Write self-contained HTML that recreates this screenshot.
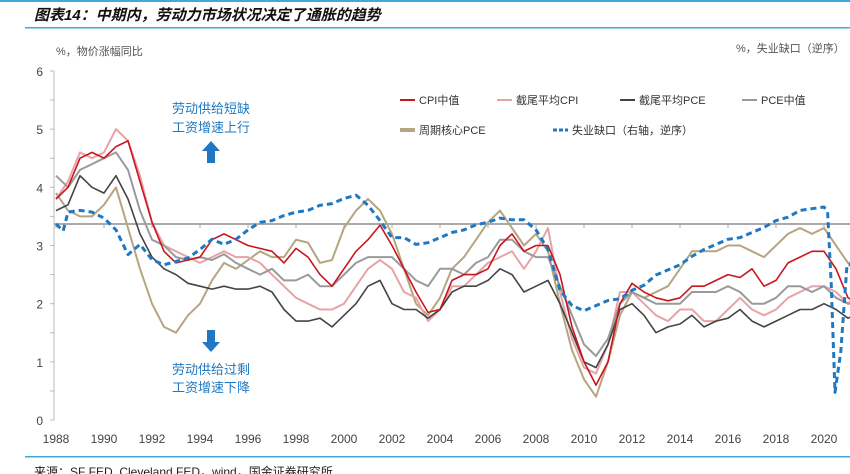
<!DOCTYPE html>
<html><head><meta charset="utf-8">
<style>
html,body{margin:0;padding:0;background:#fff;}
body{width:850px;height:474px;overflow:hidden;position:relative;font-family:"Liberation Sans","Noto Sans CJK SC",sans-serif;}
svg{position:absolute;left:0;top:0;}
</style></head><body>
<svg id="chart" width="850" height="474">
  <rect x="0" y="0" width="850" height="2" fill="#3fa9de"/>
  <text x="34" y="20" font-size="15" font-weight="bold" font-style="italic" fill="#111" font-family="'Liberation Sans','Noto Sans CJK SC',sans-serif">图表14：中期内，劳动力市场状况决定了通胀的趋势</text>
  <rect x="25" y="27" width="825" height="1.5" fill="#3fa9de"/>
  <text x="56" y="55" font-size="11" fill="#555">%，物价涨幅同比</text>
  <text x="736" y="52" font-size="11" fill="#555">%，失业缺口（逆序）</text>
  <g id="axes"></g>
  <g id="series"></g>
  <g id="legend"></g>
  <g fill="#1f78c1" font-size="13" text-anchor="middle">
    <text x="211" y="113">劳动供给短缺</text>
    <text x="211" y="132">工资增速上行</text>
    <polygon points="211,141 220,151 215,151 215,163 207,163 207,151 202,151"/>
  </g>
  <g fill="#1f78c1" font-size="13" text-anchor="middle">
    <polygon points="211,352 220,342 215,342 215,330 207,330 207,342 202,342"/>
    <text x="211" y="374">劳动供给过剩</text>
    <text x="211" y="392">工资增速下降</text>
  </g>
  <rect x="25" y="456" width="825" height="1.5" fill="#3fa9de"/>
  <text x="34" y="476" font-size="12" fill="#222">来源：SF FED, Cleveland FED，wind，国金证券研究所</text>
</svg>
<script>
const times = [1988,1988.5,1989,1989.5,1990,1990.5,1991,1991.5,1992,1992.5,1993,1993.5,1994,1994.5,1995,1995.5,1996,1996.5,1997,1997.5,1998,1998.5,1999,1999.5,2000,2000.5,2001,2001.5,2002,2002.5,2003,2003.5,2004,2004.5,2005,2005.5,2006,2006.5,2007,2007.5,2008,2008.5,2009,2009.5,2010,2010.5,2011,2011.5,2012,2012.5,2013,2013.5,2014,2014.5,2015,2015.5,2016,2016.5,2017,2017.5,2018,2018.5,2019,2019.5,2020,2020.5,2021,2021.25];
const cpiMedian = [3.8,4.0,4.5,4.6,4.5,4.7,4.8,4.1,3.4,2.9,2.7,2.75,2.8,3.1,3.2,3.1,3.0,2.95,2.9,2.7,2.95,2.8,2.5,2.3,2.6,2.9,3.1,3.35,3.0,2.6,2.2,1.85,1.9,2.4,2.5,2.5,2.6,3.0,3.2,2.9,3.0,3.0,2.5,1.6,1.0,0.6,1.0,2.0,2.35,2.2,2.1,2.05,2.1,2.3,2.3,2.4,2.5,2.45,2.6,2.3,2.4,2.7,2.8,2.9,2.9,2.6,2.1,2.05];
const trimCpi = [3.8,4.1,4.6,4.5,4.6,5.0,4.8,4.2,3.4,3.0,2.9,2.8,2.7,2.8,2.9,2.8,2.8,2.7,2.5,2.3,2.1,2.0,1.9,1.9,2.0,2.3,2.6,2.75,2.6,2.2,2.1,1.7,1.9,2.3,2.3,2.5,2.7,2.8,2.9,2.6,2.9,3.3,2.2,1.4,0.9,0.8,1.3,2.2,2.2,2.0,1.8,1.7,1.9,1.9,1.7,1.7,1.9,2.1,1.9,1.8,1.9,2.1,2.2,2.3,2.3,2.2,2.0,2.1];
const trimPce = [3.6,3.7,4.2,4.0,3.9,4.2,3.8,3.2,2.8,2.6,2.5,2.35,2.3,2.25,2.3,2.25,2.25,2.3,2.2,1.9,1.7,1.7,1.75,1.6,1.8,2.0,2.3,2.4,2.0,1.9,1.9,1.75,1.9,2.2,2.3,2.3,2.4,2.6,2.5,2.2,2.3,2.4,2.0,1.5,1.0,0.9,1.3,1.9,2.0,1.8,1.5,1.6,1.65,1.8,1.6,1.7,1.75,1.9,1.7,1.6,1.7,1.8,1.9,1.9,2.0,1.9,1.75,1.8];
const pceMedian = [4.2,4.0,4.3,4.4,4.5,4.6,4.3,3.6,3.1,3.0,2.8,2.75,2.8,2.75,2.85,2.7,2.6,2.5,2.6,2.4,2.4,2.5,2.3,2.3,2.5,2.7,2.8,2.8,2.8,2.6,2.4,2.3,2.6,2.6,2.5,2.7,2.8,3.1,3.1,2.9,2.8,2.8,2.3,1.8,1.3,1.1,1.4,2.0,2.2,2.1,2.0,2.0,2.0,2.2,2.2,2.2,2.3,2.2,2.0,2.0,2.1,2.3,2.3,2.2,2.3,2.1,2.0,2.0];
const cyclicalPce = [3.9,3.6,3.5,3.5,3.7,4.0,3.3,2.6,2.0,1.6,1.5,1.8,2.0,2.4,2.7,2.6,2.75,2.9,2.8,2.8,3.1,3.05,2.7,2.75,3.3,3.6,3.8,3.6,3.2,2.6,2.0,1.8,2.1,2.6,2.8,3.1,3.4,3.6,3.3,3.0,3.2,2.9,2.0,1.2,0.7,0.4,1.0,1.8,2.2,2.1,2.2,2.3,2.6,2.9,2.9,2.9,3.0,3.0,2.9,2.8,3.0,3.2,3.3,3.2,3.3,3.0,2.7,2.7];
const gapTimes = [1988,1988.3,1988.5,1989,1989.5,1990,1990.5,1991,1991.5,1992,1992.5,1993,1993.5,1994,1994.5,1995,1995.5,1996,1996.5,1997,1997.5,1998,1998.5,1999,1999.5,2000,2000.5,2001,2001.5,2002,2002.5,2003,2003.5,2004,2004.5,2005,2005.5,2006,2006.5,2007,2007.5,2008,2008.5,2009,2009.5,2010,2010.5,2011,2011.5,2012,2012.5,2013,2013.5,2014,2014.5,2015,2015.5,2016,2016.5,2017,2017.5,2018,2018.5,2019,2019.5,2020,2020.15,2020.3,2020.46,2020.7,2020.96,2021.25];
const unemploymentGap = [0,0.4,-0.7,-0.8,-0.7,-0.35,0.35,1.8,1.2,2.1,2.4,2.2,2.0,1.5,0.9,1.2,0.9,0.35,-0.1,-0.2,-0.5,-0.7,-0.8,-1.1,-1.2,-1.5,-1.7,-1.1,-0.2,0.8,0.8,1.2,1.1,0.8,0.5,0.35,0.05,-0.1,-0.35,-0.25,-0.25,0.35,1.5,3.9,4.8,5.1,4.8,4.5,4.4,3.9,3.6,3.0,2.7,2.4,1.9,1.5,1.2,0.9,0.8,0.5,0.2,-0.2,-0.4,-0.8,-0.9,-1.0,-0.7,3.5,9.9,7.5,2.4,2.4];
const yTicks = [0,1,2,3,4,5,6];
const xTicks = [1988,1990,1992,1994,1996,1998,2000,2002,2004,2006,2008,2010,2012,2014,2016,2018,2020];

const NS='http://www.w3.org/2000/svg';
function X(t){return 56+(t-1988)*24;}
function Y(v){return 420-v*58.17;}
const GAP0=224, GAPK=17;
function YG(g){return GAP0+g*GAPK;}
function mk(tag,attrs,parent){const e=document.createElementNS(NS,tag);for(const k in attrs)e.setAttribute(k,attrs[k]);parent.appendChild(e);return e;}

const axes=document.getElementById('axes');
let l=mk('line',{x1:54,y1:Y(6),x2:54,y2:Y(0),stroke:'#bbb','stroke-width':1},axes);


for(let v=0;v<=6;v+=0.5){
  const t=mk('line',{x1:50,y1:Y(v),x2:54,y2:Y(v),stroke:'#bbb'},axes);
  
  
}
yTicks.forEach(v=>{
  const t=mk('text',{x:43,y:Y(v)+5,'font-size':12,fill:'#444','text-anchor':'end'},axes);
  t.textContent=v;
  
  
});
xTicks.forEach(yr=>{
  const t=mk('text',{x:X(yr),y:443,'font-size':12,fill:'#444','text-anchor':'middle'},axes);
  t.textContent=yr;
  
  
  const k=mk('line',{x1:X(yr),y1:GAP0,x2:X(yr),y2:GAP0+4,stroke:'#aaa'},axes);
  
  
});
const zl=mk('line',{x1:54,y1:GAP0,x2:850,y2:GAP0,stroke:'#aaa','stroke-width':2},axes);



const ser=document.getElementById('series');
function line(ts,vals,yf,color,w,name,dash){
  const d=ts.map((t,i)=>(i?'L':'M')+X(t).toFixed(1)+','+yf(vals[i]).toFixed(1)).join(' ');
  const p=mk('path',{d:d,fill:'none',stroke:color,'stroke-width':w,'stroke-linejoin':'round'},ser);
  if(dash)p.setAttribute('stroke-dasharray',dash);
  
  
}
line(times,cyclicalPce,Y,'#b5a581',2,'series-cyclical-core-pce');
line(times,trimCpi,Y,'#e8a3a6',2,'series-trimmed-cpi');
line(times,pceMedian,Y,'#9a9a9a',2,'series-pce-median');
line(times,trimPce,Y,'#444444',1.6,'series-trimmed-pce');
line(times,cpiMedian,Y,'#c8161d',1.6,'series-cpi-median');
line(gapTimes,unemploymentGap,YG,'#1f78c1',3,'series-unemployment-gap','6,4');

const lg=document.getElementById('legend');
const items=[
 [400,100,'#c8161d','CPI中值','legend-cpi-median',2,null],
 [497,100,'#e8a3a6','截尾平均CPI','legend-trimmed-cpi',2,null],
 [620,100,'#444','截尾平均PCE','legend-trimmed-pce',2,null],
 [742,100,'#9a9a9a','PCE中值','legend-pce-median',2,null],
 [400,130,'#b5a581','周期核心PCE','legend-cyclical-core-pce',4,null],
 [553,130,'#1f78c1','失业缺口（右轴，逆序）','legend-unemployment-gap',3,'4,2']
];
items.forEach(it=>{
  const g=mk('g',{},lg);
  
  
  const s=mk('line',{x1:it[0],y1:it[1],x2:it[0]+15,y2:it[1],stroke:it[2],'stroke-width':it[5]},g);
  if(it[6])s.setAttribute('stroke-dasharray',it[6]);
  const t=mk('text',{x:it[0]+19,y:it[1]+4,'font-size':11,fill:'#333'},g);
  t.textContent=it[3];
});
</script>
</body></html>
